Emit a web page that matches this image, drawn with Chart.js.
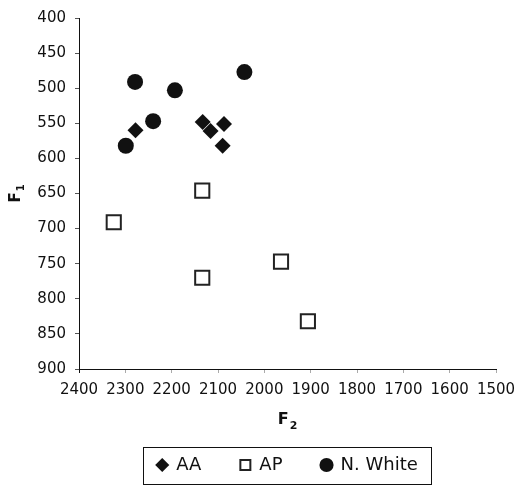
<!DOCTYPE html>
<html>
<head>
<meta charset="utf-8">
<script src="https://cdn.jsdelivr.net/npm/chart.js@4"></script>
<style>
  html, body { margin: 0; padding: 0; background: #fff; }
  #wrap { width: 518px; height: 487px; }
</style>
</head>
<body>
<div id="wrap"><canvas id="c" width="518" height="487"></canvas></div>
<script>
// Formant values: F2 (Hz) on the horizontal axis, F1 (Hz) on the vertical axis
const aaF2 = [2278, 2133, 2116, 2087, 2090];
const aaF1 = [560, 548, 561, 551, 582];

const apF2 = [2134, 2325, 2134, 1964, 1906];
const apF1 = [646, 691, 770, 747, 832];

const nwF2 = [2279, 2193, 2043, 2240, 2299];
const nwF1 = [491, 503, 477, 547, 582];

const seriesNames = ['AA', 'AP', 'N. White'];

const xRange = { min: 1500, max: 2400, step: 100 };
const yRange = { min: 400, max: 900, step: 50 };

const FONT = '"DejaVu Sans", "Liberation Sans", Arial, sans-serif';

function pairs(xs, ys) {
  return xs.map((x, i) => ({ x: x, y: ys[i] }));
}

// Axis titles with a subscript digit (F₁, F₂)
const axisTitles = {
  id: 'axisTitles',
  afterDraw(chart) {
    const ctx = chart.ctx;
    const area = chart.chartArea;
    ctx.save();
    ctx.fillStyle = '#111';
    ctx.textBaseline = 'alphabetic';

    // horizontal title
    ctx.font = 'bold 16px ' + FONT;
    const wF = ctx.measureText('F').width;
    ctx.font = 'bold 11px ' + FONT;
    const w2 = ctx.measureText('2').width;
    const cx = (area.left + area.right) / 2;
    const bx = cx - (wF + 1 + w2) / 2;
    const by = area.bottom + 55;
    ctx.font = 'bold 16px ' + FONT;
    ctx.textAlign = 'left';
    ctx.fillText('F', bx, by);
    ctx.font = 'bold 11px ' + FONT;
    ctx.fillText('2', bx + wF + 1, by + 5);

    // vertical title
    ctx.translate(20, (area.top + area.bottom) / 2);
    ctx.rotate(-Math.PI / 2);
    ctx.font = 'bold 15px ' + FONT;
    const vF = ctx.measureText('F').width;
    ctx.font = 'bold 10px ' + FONT;
    const v1 = ctx.measureText('1').width;
    const vx = -(vF + 1 + v1) / 2;
    ctx.font = 'bold 15px ' + FONT;
    ctx.fillText('F', vx, 0);
    ctx.font = 'bold 10px ' + FONT;
    ctx.fillText('1', vx + vF + 1, 4);
    ctx.restore();
  }
};

// Frame around the legend entries
const legendFrame = {
  id: 'legendFrame',
  afterDraw(chart) {
    const lg = chart.legend;
    if (!lg || !lg.legendHitBoxes || !lg.legendHitBoxes.length) return;
    const hb = lg.legendHitBoxes;
    const first = hb[0];
    const last = hb[hb.length - 1];
    const left = first.left - 14;
    const right = last.left + last.width + 13;
    const top = first.top - 9;
    const bottom = first.top + first.height + 10;
    const ctx = chart.ctx;
    ctx.save();
    ctx.strokeStyle = '#111';
    ctx.lineWidth = 1;
    ctx.strokeRect(Math.round(left) + 0.5, Math.round(top) + 0.5,
                   Math.round(right - left), Math.round(bottom - top));
    ctx.restore();
  }
};

new Chart(document.getElementById('c'), {
  type: 'scatter',
  data: {
    datasets: [
      {
        label: seriesNames[0],
        data: pairs(aaF2, aaF1),
        pointStyle: 'rectRot',
        pointRadius: 8,
        pointHoverRadius: 8,
        backgroundColor: '#111',
        borderColor: '#111',
        borderWidth: 0
      },
      {
        label: seriesNames[1],
        data: pairs(apF2, apF1),
        pointStyle: 'rect',
        pointRadius: 10,
        pointHoverRadius: 10,
        backgroundColor: '#fff',
        borderColor: '#222',
        borderWidth: 2
      },
      {
        label: seriesNames[2],
        data: pairs(nwF2, nwF1),
        pointStyle: 'circle',
        pointRadius: 8,
        pointHoverRadius: 8,
        backgroundColor: '#111',
        borderColor: '#111',
        borderWidth: 0
      }
    ]
  },
  options: {
    responsive: false,
    animation: false,
    events: [],
    layout: { padding: { top: 13, right: 0, bottom: 3, left: 0 } },
    scales: {
      x: {
        type: 'linear',
        reverse: true,
        min: xRange.min,
        max: xRange.max,
        afterFit(scale) {
          scale.height = 48;
          scale.paddingRight = 22;
        },
        ticks: {
          stepSize: xRange.step,
          color: '#111',
          padding: 8,
          maxRotation: 0,
          autoSkip: false,
          font: { family: FONT, size: 15 },
          callback: (v) => String(v)
        },
        grid: {
          display: true,
          drawOnChartArea: false,
          drawTicks: true,
          tickLength: 4,
          color: (c) => (c.tick && c.tick.value === xRange.max ? '#111' : '#aaa')
        },
        border: { display: true, color: '#111', width: 1 }
      },
      y: {
        type: 'linear',
        reverse: true,
        min: yRange.min,
        max: yRange.max,
        afterFit(scale) { scale.width = 79; },
        ticks: {
          stepSize: yRange.step,
          color: '#111',
          padding: 9,
          font: { family: FONT, size: 15 },
          callback: (v) => String(v)
        },
        grid: {
          display: true,
          drawOnChartArea: false,
          drawTicks: true,
          tickLength: 4,
          color: '#555'
        },
        border: { display: true, color: '#111', width: 1 }
      }
    },
    plugins: {
      tooltip: { enabled: false },
      legend: {
        display: true,
        position: 'bottom',
        fullSize: false,
        labels: {
          usePointStyle: true,
          boxWidth: 10,
          boxHeight: 10,
          padding: 39,
          color: '#111',
          font: { family: FONT, size: 18 }
        }
      }
    }
  },
  plugins: [axisTitles, legendFrame]
});
</script>
</body>
</html>
